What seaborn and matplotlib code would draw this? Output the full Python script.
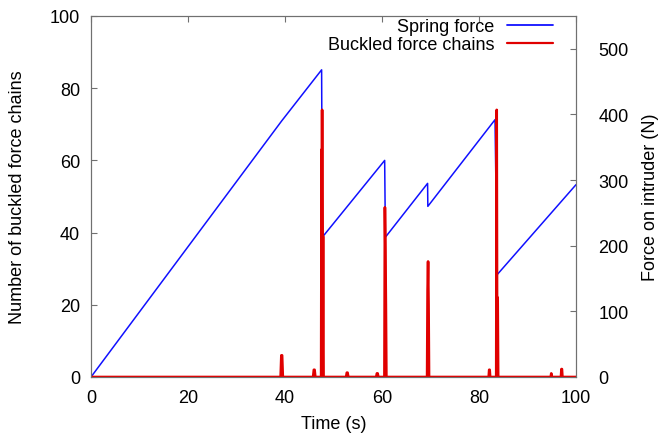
import matplotlib
matplotlib.use("Agg")
import matplotlib.pyplot as plt
import seaborn as sns
import pandas as pd
from matplotlib.lines import Line2D

# Spring force (right axis, N)
spring_t = [0, 39.3, 47.55, 47.7, 60.55, 60.7, 69.4, 69.45, 83.3, 83.75, 100]
spring_f = [0, 390, 468, 213, 330, 213, 295, 260, 392, 156, 293]

# Buckled force chains (left axis, count)
chain_t = [0, 39.1, 39.25, 39.4, 39.55,
           45.8, 45.95, 46.1, 46.25,
           47.45, 47.55, 47.6, 47.65, 47.75, 47.85, 47.95,
           52.6, 52.75, 52.9, 53.05,
           58.8, 58.95, 59.1, 59.25,
           60.5, 60.6, 60.7, 60.8, 60.9,
           69.3, 69.4, 69.5, 69.6, 69.7,
           82.0, 82.1, 82.2, 82.3,
           83.55, 83.65, 83.75, 83.85, 83.95,
           94.8, 94.9, 95.0,
           96.9, 97.0, 97.1, 97.2,
           100]
chain_n = [0, 0, 6, 6, 0,
           0, 2, 2, 0,
           0, 63, 20, 74, 0, 39, 0,
           0, 1.2, 1.2, 0,
           0, 1, 1, 0,
           0, 47, 35, 20, 0,
           0, 24, 32, 20, 0,
           0, 2, 2, 0,
           0, 74, 0, 22, 0,
           0, 1, 0,
           0, 2.2, 2.2, 0,
           0]

x_ticks = [0, 20, 40, 60, 80, 100]
left_ticks = [0, 20, 40, 60, 80, 100]
right_ticks = [0, 100, 200, 300, 400, 500]

sns.set_style("white")
plt.rcParams['font.family'] = ['Liberation Sans', 'DejaVu Sans']
plt.rcParams['font.size'] = 13
plt.rcParams['text.color'] = 'black'
plt.rcParams['axes.labelcolor'] = 'black'
plt.rcParams['xtick.labelcolor'] = 'black'
plt.rcParams['ytick.labelcolor'] = 'black'

fig = plt.figure(figsize=(6.63, 4.35), dpi=100)
ax = fig.add_axes([91/663, 1-378/435, (576-91)/663, (378-17)/435])
ax2 = ax.twinx()

df_s = pd.DataFrame({"t": spring_t, "f": spring_f})
df_c = pd.DataFrame({"t": chain_t, "n": chain_n})

blue = "#1010ff"
red = "#e00000"
sns.lineplot(data=df_s, x="t", y="f", ax=ax2, color=blue, linewidth=1.1,
             estimator=None, sort=False, legend=False)
sns.lineplot(data=df_c, x="t", y="n", ax=ax, color=red, linewidth=1.9,
             estimator=None, sort=False, legend=False)

ax.set_zorder(ax2.get_zorder() + 1)
ax.patch.set_visible(False)

ax.set_xlim(0, 100)
ax.set_ylim(0, 100)
ax2.set_ylim(0, 550)
ax.set_xticks(x_ticks)
ax.set_yticks(left_ticks)
ax2.set_yticks(right_ticks)

frame_c = "#707070"
for a in (ax, ax2):
    for s in a.spines.values():
        s.set_color(frame_c)
        s.set_linewidth(0.8)

ax.tick_params(axis="x", direction="in", length=4, color=frame_c, top=True,
               labeltop=False, pad=9, labelsize=13, labelcolor="black")
ax.tick_params(axis="y", direction="in", length=4, color=frame_c, right=False,
               pad=8, labelsize=13, labelcolor="black")
ax2.tick_params(axis="y", direction="in", length=4, color=frame_c, pad=16,
                labelsize=13, labelcolor="black")

ax.set_xlabel("Time (s)", fontsize=13, labelpad=6, color="black")
ax.set_ylabel("Number of buckled force chains", fontsize=13, labelpad=17, color="black")
ax2.set_ylabel("Force on intruder (N)", fontsize=13, labelpad=10, color="black")

h1 = Line2D([], [], color=blue, linewidth=1.3)
h2 = Line2D([], [], color=red, linewidth=1.6)
leg = ax.legend([h1, h2], ["Spring force", "Buckled force chains"],
                loc="upper right", bbox_to_anchor=(553/663, 1-19/435),
                bbox_transform=fig.transFigure, frameon=False, markerfirst=False,
                handlelength=2.55, handletextpad=0.7, labelspacing=0.05,
                borderpad=0, borderaxespad=0, fontsize=13)
for t in leg.get_texts():
    t.set_ha("right")
    t.set_color("black")

fig.savefig("out.png", dpi=100)
